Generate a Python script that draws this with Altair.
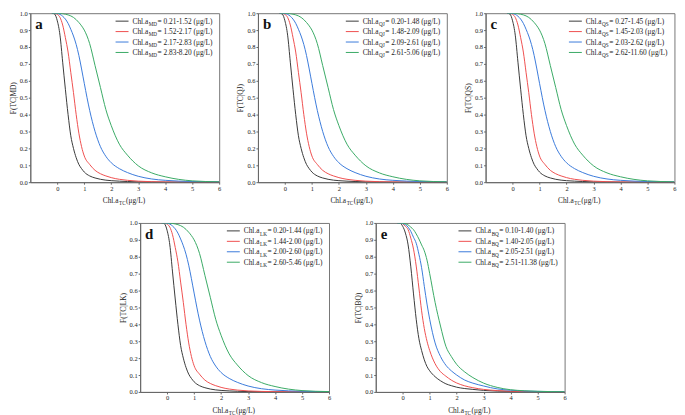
import altair as alt
import pandas as pd

# ---------------- data ----------------
X = [-0.2, -0.1, 0, 0.1, 0.2, 0.3, 0.4, 0.5, 0.6, 0.7, 0.8, 0.9, 1.0,
     1.2, 1.4, 1.6, 1.8, 2.0, 2.3, 2.6, 3.0, 3.5, 4.0, 5.0, 6.0]

A_BLACK = [1.0, 0.995, 0.955, 0.87, 0.71, 0.55, 0.40, 0.275, 0.20, 0.145, 0.105, 0.08, 0.06,
           0.037, 0.025, 0.017, 0.012, 0.009, 0.006, 0.004, 0.002, 0.001, 0.0005, 0.0002, 0.0]
A_RED = [1.0, 1.0, 0.993, 0.975, 0.93, 0.855, 0.77, 0.65, 0.53, 0.40, 0.29, 0.21, 0.155,
         0.105, 0.07, 0.05, 0.037, 0.027, 0.017, 0.011, 0.006, 0.003, 0.0015, 0.0004, 0.0001]
A_BLUE = [1.0, 1.0, 0.998, 0.993, 0.982, 0.965, 0.94, 0.905, 0.865, 0.815, 0.75, 0.67, 0.585,
          0.425, 0.30, 0.21, 0.153, 0.115, 0.08, 0.057, 0.035, 0.019, 0.011, 0.004, 0.0015]
A_GREEN = [1.0, 1.0, 1.0, 0.999, 0.997, 0.994, 0.99, 0.984, 0.975, 0.962, 0.945, 0.925, 0.9,
           0.82, 0.69, 0.56, 0.43, 0.335, 0.225, 0.16, 0.097, 0.055, 0.032, 0.008, 0.002]

B_BLACK = [1.0, 0.995, 0.955, 0.87, 0.71, 0.55, 0.40, 0.275, 0.20, 0.145, 0.105, 0.08, 0.06,
           0.037, 0.025, 0.017, 0.012, 0.009, 0.006, 0.004, 0.002, 0.001, 0.0005, 0.0002, 0.0]
B_RED = [1.0, 1.0, 0.993, 0.975, 0.93, 0.855, 0.77, 0.65, 0.53, 0.40, 0.29, 0.21, 0.155,
         0.105, 0.07, 0.05, 0.037, 0.027, 0.017, 0.011, 0.006, 0.003, 0.0015, 0.0004, 0.0001]
B_BLUE = [1.0, 1.0, 0.998, 0.993, 0.982, 0.965, 0.94, 0.905, 0.865, 0.815, 0.75, 0.67, 0.585,
          0.425, 0.30, 0.21, 0.153, 0.115, 0.08, 0.057, 0.035, 0.019, 0.011, 0.004, 0.0015]
B_GREEN = [1.0, 1.0, 1.0, 0.999, 0.997, 0.994, 0.99, 0.984, 0.975, 0.962, 0.945, 0.925, 0.9,
           0.82, 0.69, 0.56, 0.43, 0.335, 0.225, 0.16, 0.097, 0.055, 0.032, 0.008, 0.002]

C_BLACK = [1.0, 0.995, 0.955, 0.87, 0.71, 0.55, 0.40, 0.275, 0.20, 0.145, 0.105, 0.08, 0.06,
           0.037, 0.025, 0.017, 0.012, 0.009, 0.006, 0.004, 0.002, 0.001, 0.0005, 0.0002, 0.0]
C_RED = [1.0, 1.0, 0.993, 0.975, 0.93, 0.855, 0.77, 0.65, 0.53, 0.40, 0.29, 0.21, 0.155,
         0.105, 0.07, 0.05, 0.037, 0.027, 0.017, 0.011, 0.006, 0.003, 0.0015, 0.0004, 0.0001]
C_BLUE = [1.0, 1.0, 0.998, 0.993, 0.982, 0.965, 0.94, 0.905, 0.865, 0.815, 0.75, 0.67, 0.585,
          0.425, 0.30, 0.21, 0.153, 0.115, 0.08, 0.057, 0.035, 0.019, 0.011, 0.004, 0.0015]
C_GREEN = [1.0, 1.0, 1.0, 0.999, 0.997, 0.994, 0.99, 0.984, 0.975, 0.962, 0.945, 0.925, 0.9,
           0.82, 0.69, 0.56, 0.43, 0.335, 0.225, 0.16, 0.097, 0.055, 0.032, 0.008, 0.002]

D_BLACK = [1.0, 0.995, 0.955, 0.87, 0.71, 0.55, 0.40, 0.275, 0.20, 0.145, 0.105, 0.08, 0.06,
           0.037, 0.025, 0.017, 0.012, 0.009, 0.006, 0.004, 0.002, 0.001, 0.0005, 0.0002, 0.0]
D_RED = [1.0, 1.0, 0.993, 0.975, 0.93, 0.855, 0.77, 0.65, 0.53, 0.40, 0.29, 0.21, 0.155,
         0.105, 0.07, 0.05, 0.037, 0.027, 0.017, 0.011, 0.006, 0.003, 0.0015, 0.0004, 0.0001]
D_BLUE = [1.0, 1.0, 0.998, 0.993, 0.982, 0.965, 0.94, 0.905, 0.865, 0.815, 0.75, 0.67, 0.585,
          0.425, 0.30, 0.21, 0.153, 0.115, 0.08, 0.057, 0.035, 0.019, 0.011, 0.004, 0.0015]
D_GREEN = [1.0, 1.0, 1.0, 0.999, 0.997, 0.994, 0.99, 0.984, 0.975, 0.962, 0.945, 0.925, 0.9,
           0.82, 0.69, 0.56, 0.43, 0.335, 0.225, 0.16, 0.097, 0.055, 0.032, 0.008, 0.002]

E_BLACK = [1.0, 0.998, 0.98, 0.94, 0.87, 0.74, 0.58, 0.43, 0.315, 0.245, 0.19, 0.15, 0.125,
           0.09, 0.066, 0.048, 0.037, 0.028, 0.02, 0.015, 0.009, 0.005, 0.003, 0.001, 0.0003]
E_RED = [1.0, 1.0, 0.995, 0.98, 0.96, 0.91, 0.845, 0.745, 0.615, 0.48, 0.375, 0.30, 0.245,
         0.167, 0.12, 0.093, 0.07, 0.053, 0.036, 0.025, 0.015, 0.008, 0.004, 0.0012, 0.0004]
E_BLUE = [1.0, 1.0, 0.997, 0.99, 0.975, 0.95, 0.915, 0.88, 0.815, 0.735, 0.625, 0.52, 0.43,
          0.29, 0.21, 0.158, 0.125, 0.1, 0.07, 0.052, 0.035, 0.018, 0.01, 0.003, 0.001]
E_GREEN = [1.0, 1.0, 0.999, 0.995, 0.988, 0.975, 0.96, 0.935, 0.905, 0.87, 0.835, 0.78, 0.70,
           0.53, 0.39, 0.27, 0.21, 0.163, 0.118, 0.085, 0.052, 0.027, 0.013, 0.004, 0.001]

LETTERS = ["a", "b", "c", "d", "e"]
SITES = ["MD", "QJ", "QS", "LK", "BQ"]
RANGES = [
    ["0.21-1.52", "1.52-2.17", "2.17-2.83", "2.83-8.20"],
    ["0.20-1.48", "1.48-2.09", "2.09-2.61", "2.61-5.06"],
    ["0.27-1.45", "1.45-2.03", "2.03-2.62", "2.62-11.60"],
    ["0.20-1.44", "1.44-2.00", "2.00-2.60", "2.60-5.46"],
    ["0.10-1.40", "1.40-2.05", "2.05-2.51", "2.51-11.38"],
]
SERIES = [
    [A_BLACK, A_RED, A_BLUE, A_GREEN],
    [B_BLACK, B_RED, B_BLUE, B_GREEN],
    [C_BLACK, C_RED, C_BLUE, C_GREEN],
    [D_BLACK, D_RED, D_BLUE, D_GREEN],
    [E_BLACK, E_RED, E_BLUE, E_GREEN],
]
X_TICKS = [0, 1, 2, 3, 4, 5, 6]
Y_TICKS = [0.0, 0.1, 0.2, 0.3, 0.4, 0.5, 0.6, 0.7, 0.8, 0.9, 1.0]

# ---------------- style ----------------
FONT = "Liberation Serif"
W, H = 190, 170
KEYS = ["k", "r", "b", "g"]
COLORS = ["#3a3a3a", "#ef5050", "#3b7bdb", "#3aaa66"]
FS = 7.4       # legend / title size
SFS = 5.2      # subscript size
SUB_DY = 2.2
GAP = 0.5
TXT = "#222222"

# Times-like advance widths (per 1000 em)
WID = {" ": 250, "(": 333, ")": 333, "-": 333, ".": 250, "/": 278, "=": 564, "|": 200,
       "C": 667, "D": 722, "M": 889, "Q": 722, "J": 389, "S": 556, "L": 611, "K": 722,
       "B": 667, "T": 611, "F": 556, "h": 500, "l": 278, "a": 444, "g": 500, "μ": 500}


def tw(s, size):
    return sum(WID.get(ch, 500) for ch in s) / 1000.0 * size


ONE = alt.InlineData(values=[{"k": 0}])


def txt(s, x, y, size, bold=False, color=TXT):
    return alt.Chart(ONE).mark_text(
        text=s, align="left", baseline="alphabetic", font=FONT, fontSize=size,
        fontWeight="bold" if bold else "normal", color=color
    ).encode(x=alt.value(x), y=alt.value(y))


def panel(i):
    rows = []
    for key, ys in zip(KEYS, SERIES[i]):
        for xv, yv in zip(X, ys):
            rows.append({"x": xv, "y": yv, "s": key})
    df = pd.DataFrame(rows)
    site = SITES[i]
    lines = alt.Chart(df).mark_line(strokeWidth=1, interpolate="monotone", clip=True).encode(
        x=alt.X("x:Q", scale=alt.Scale(domain=[-1, 6], nice=False, zero=False),
                axis=alt.Axis(values=X_TICKS, title=None, labelFlush=False)),
        y=alt.Y("y:Q", scale=alt.Scale(domain=[0, 1], nice=False),
                axis=alt.Axis(values=Y_TICKS, format=".1f", title=f"F(TC|{site})",
                              titlePadding=2, labelFlush=False)),
        color=alt.Color("s:N", scale=alt.Scale(domain=KEYS, range=COLORS), legend=None),
    )
    layers = [lines, txt(LETTERS[i], 5, 16, 15, bold=True, color="#111111")]

    # legend (manual so subscripts can be drawn)
    widths = []
    for r in RANGES[i]:
        rest = f" = {r} (μg/L)"
        widths.append(tw("Chl.a", FS) + tw(site, SFS) + tw(rest, FS) + 2 * GAP)
    tx = W - 5 - max(widths)
    for j, r in enumerate(RANGES[i]):
        yc = 8 + 10.5 * j
        layers.append(alt.Chart(ONE).mark_rule(strokeWidth=1, color=COLORS[j]).encode(
            x=alt.value(tx - 17), x2=alt.value(tx - 4), y=alt.value(yc)))
        base = yc + 2.6
        x0 = tx
        layers.append(txt("Chl.a", x0, base, FS))
        x0 += tw("Chl.a", FS) + GAP
        layers.append(txt(site, x0, base + SUB_DY, SFS))
        x0 += tw(site, SFS) + GAP
        layers.append(txt(f" = {r} (μg/L)", x0, base, FS))

    # x axis title with subscript
    total = tw("Chl.a", FS) + tw("TC", SFS) + tw(" (μg/L)", FS) + 2 * GAP
    x0 = W / 2 - total / 2
    yb = H + 21
    layers.append(txt("Chl.a", x0, yb, FS))
    x0 += tw("Chl.a", FS) + GAP
    layers.append(txt("TC", x0, yb + SUB_DY, SFS))
    x0 += tw("TC", SFS) + GAP
    layers.append(txt(" (μg/L)", x0, yb, FS))

    return alt.layer(*layers).properties(width=W, height=H)


row1 = alt.hconcat(panel(0), panel(1), panel(2), spacing=14)
row2 = alt.hconcat(panel(3), panel(4), spacing=22)
chart = alt.vconcat(row1, row2, spacing=12, center=True).properties(
    padding={"left": 0, "top": 0, "right": 0, "bottom": 0},
    background="white",
).configure_axis(
    labelFont=FONT, labelFontSize=6.5, labelColor=TXT, labelPadding=1,
    titleFont=FONT, titleFontSize=7.5, titleFontWeight="normal", titleColor=TXT,
    domainColor="#666666", tickColor="#666666", tickSize=2, grid=False,
).configure_view(stroke="#777777", strokeWidth=1)

chart.save("out.html", embed_options={"renderer": "svg", "actions": False})
